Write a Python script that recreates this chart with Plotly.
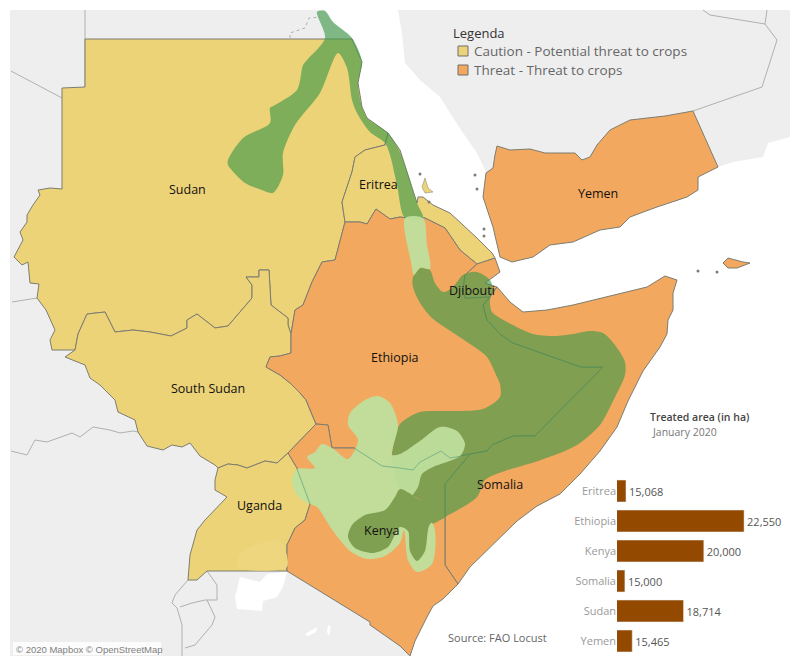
#!/usr/bin/env python3
# plot.py - Desert locust situation map with treated area bars

import plotly.graph_objects as go

# treated area bars
countries = ['Eritrea', 'Ethiopia', 'Kenya', 'Somalia', 'Sudan', 'Yemen']
treated_ha = [15068, 22550, 20000, 15000, 18714, 15465]

# map outlines
sea = [(325, 10), (333, 22), (352, 38), (362, 62), (358, 83), (362, 107), (367, 118), (388, 133), (400, 150),
       (417, 203), (418, 197), (423, 197), (433, 205), (450, 213), (477, 238), (492, 253), (495, 258), (500, 272),
       (485, 283), (497, 287), (510, 302), (523, 312), (547, 310), (573, 305), (613, 295), (647, 287), (665, 276),
       (677, 280), (673, 293), (673, 310), (668, 320), (667, 334), (660, 347), (643, 371), (628, 401), (617, 427),
       (600, 451), (580, 474), (560, 494), (537, 506), (517, 521), (493, 544), (470, 567), (458, 584), (443, 599),
       (433, 606), (427, 617), (415, 641), (410, 656), (790, 656), (790, 137), (768, 143), (763, 157), (733, 162),
       (718, 167), (698, 177), (698, 190), (687, 197), (657, 207), (630, 217), (620, 227), (600, 230), (573, 242),
       (550, 245), (533, 257), (512, 262), (500, 257), (493, 227), (483, 197), (486, 173), (485, 170), (477, 153),
       (463, 133), (450, 113), (440, 97), (420, 80), (405, 63), (402, 33), (400, 23), (398, 10)]
sudan = [(85, 39), (352, 39), (362, 62), (358, 83), (362, 107), (367, 118), (388, 133), (385, 145), (365, 150),
         (355, 157), (352, 172), (342, 202), (345, 222), (335, 260), (322, 262), (312, 282), (303, 305), (295, 310),
         (291, 334), (288, 325), (288, 318), (271, 305), (269, 270), (259, 270), (259, 277), (246, 277), (252, 285),
         (252, 298), (228, 326), (215, 328), (197, 314), (187, 320), (187, 328), (171, 336), (150, 332), (133, 330),
         (115, 332), (105, 312), (87, 314), (78, 334), (75, 350), (52, 350), (50, 340), (55, 330), (46, 310), (37, 298),
         (39, 284), (30, 283), (28, 262), (22, 265), (14, 257), (23, 240), (20, 232), (27, 222), (27, 215), (33, 205),
         (40, 195), (38, 190), (50, 188), (62, 189), (62, 88), (85, 87)]
south_sudan = [(291, 334), (288, 325), (288, 318), (271, 305), (269, 270), (259, 270), (259, 277), (246, 277),
               (252, 285), (252, 298), (228, 326), (215, 328), (197, 314), (187, 320), (187, 328), (171, 336),
               (150, 332), (133, 330), (115, 332), (105, 312), (87, 314), (78, 334), (75, 350), (65, 357), (85, 365),
               (90, 378), (100, 385), (115, 400), (118, 412), (135, 420), (138, 432), (147, 446), (163, 450),
               (172, 445), (182, 447), (190, 443), (200, 456), (215, 465), (218, 468), (228, 464), (238, 465),
               (247, 468), (265, 461), (277, 463), (288, 453), (316, 424), (310, 410), (306, 400), (300, 393),
               (290, 383), (280, 375), (266, 367), (270, 357), (280, 356), (291, 353)]
uganda = [(218, 468), (215, 480), (215, 490), (227, 497), (205, 520), (197, 530), (190, 555), (188, 580), (197, 580),
          (207, 571), (287, 571), (287, 545), (295, 528), (305, 520), (310, 504), (305, 490), (297, 468), (288, 453),
          (277, 463), (265, 461), (247, 468), (238, 465), (228, 464)]
eritrea = [(388, 133), (400, 150), (417, 203), (418, 197), (423, 197), (433, 205), (450, 213), (477, 238), (492, 253),
           (495, 258), (477, 264), (460, 250), (445, 228), (425, 218), (407, 218), (400, 217), (390, 219), (376, 209),
           (367, 224), (360, 222), (345, 222), (342, 202), (352, 172), (355, 157), (365, 150), (385, 145)]
ethiopia = [(345, 222), (360, 222), (367, 224), (376, 209), (390, 219), (400, 217), (407, 218), (425, 218), (445, 228),
            (460, 250), (477, 264), (465, 275), (463, 290), (465, 298), (490, 297), (483, 305), (487, 320), (500, 334),
            (513, 343), (581, 367), (603, 367), (535, 436), (513, 436), (492, 445), (487, 451), (470, 454), (450, 458),
            (441, 451), (420, 462), (413, 470), (400, 468), (382, 466), (354, 448), (332, 448), (328, 425), (316, 424),
            (310, 410), (306, 400), (300, 393), (290, 383), (280, 375), (266, 367), (270, 357), (280, 356), (291, 353),
            (291, 334), (295, 310), (303, 305), (312, 282), (322, 262), (335, 260)]
djibouti = [(477, 264), (495, 258), (500, 272), (485, 283), (497, 287), (490, 297), (465, 298), (463, 290), (465, 275)]
somalia = [(497, 287), (510, 302), (523, 312), (547, 310), (573, 305), (613, 295), (647, 287), (665, 276), (677, 280),
           (673, 293), (673, 310), (668, 320), (667, 334), (660, 347), (643, 371), (628, 401), (617, 427), (600, 451),
           (580, 474), (560, 494), (537, 506), (517, 521), (493, 544), (470, 567), (458, 584), (445, 565), (445, 484),
           (470, 454), (487, 451), (492, 445), (513, 436), (535, 436), (603, 367), (581, 367), (513, 343), (500, 334),
           (487, 320), (483, 305), (490, 297)]
kenya = [(288, 453), (316, 424), (328, 425), (332, 448), (354, 448), (382, 466), (400, 468), (413, 470), (420, 462),
         (441, 451), (450, 458), (470, 454), (445, 484), (445, 565), (458, 584), (443, 599), (433, 606), (427, 617),
         (415, 641), (410, 656), (400, 646), (370, 625), (370, 622), (287, 571), (287, 545), (295, 528), (305, 520),
         (310, 504), (305, 490), (297, 468)]
yemen = [(486, 173), (483, 197), (493, 227), (500, 257), (512, 262), (533, 257), (550, 245), (573, 242), (600, 230),
         (620, 227), (630, 217), (657, 207), (687, 197), (698, 190), (698, 177), (718, 167), (693, 111), (665, 116),
         (630, 120), (610, 130), (597, 145), (590, 157), (582, 160), (575, 153), (545, 153), (530, 149), (510, 150),
         (497, 146), (495, 155), (493, 168)]
socotra = [(723, 263), (728, 258), (743, 262), (750, 263), (737, 268), (728, 268)]
dahlak = [(422, 187), (425, 178), (428, 188), (433, 192), (425, 193)]
islands_x = [420, 475, 477, 484, 484, 698, 717, 429]
islands_y = [174, 175, 189, 229, 236, 271, 272, 202]

# lakes
victoria = [(235, 597), (240, 577), (260, 582), (267, 574), (287, 572), (283, 587), (277, 597), (263, 601), (262, 611),
            (237, 609)]
turkana = [(305, 634), (317, 627), (316, 632), (308, 636)]
natron = [(328, 625), (331, 627), (329, 636), (327, 632)]
kyoga = [(237, 567), (243, 551), (280, 541), (287, 567)]

# locust swarm areas
swarm_north = [(325, 11), (333, 22), (352, 38), (362, 62), (358, 83), (362, 107), (367, 118), (388, 133), (400, 152),
               (417, 203), (423, 218), (405, 218), (397, 185), (390, 155), (385, 143), (370, 132), (357, 113),
               (352, 100), (347, 68), (338, 53), (320, 93), (295, 125), (283, 153), (283, 175), (273, 193), (262, 190),
               (245, 183), (228, 165), (228, 160), (243, 138), (270, 123), (270, 108), (275, 105), (297, 90),
               (303, 65), (307, 60), (325, 38), (317, 12)]
swarm_main = [(413, 277), (422, 267), (430, 270), (435, 283), (443, 292), (452, 288), (463, 275), (477, 272), (490, 280),
              (493, 290), (490, 300), (492, 312), (513, 325), (533, 334), (555, 336), (573, 334), (590, 331), (603, 333),
              (615, 345), (625, 362), (625, 375), (615, 397), (600, 425), (580, 443), (565, 451), (535, 462), (505, 471),
              (485, 480), (477, 497), (445, 517), (430, 524), (420, 500), (400, 489), (392, 458), (393, 447), (400, 424),
              (420, 412), (447, 411), (483, 409), (500, 397), (500, 384), (497, 377), (487, 357), (470, 344), (455, 334),
              (432, 318), (420, 303), (413, 287)]
hopper_strip = [(405, 218), (423, 218), (427, 245), (430, 269), (420, 268), (414, 275), (411, 262)]
hopper_south = [(292, 480), (297, 469), (315, 468), (307, 457), (315, 452), (322, 444), (332, 448), (348, 459), (358, 440),
                (348, 425), (350, 413), (365, 400), (378, 396), (390, 403), (398, 425), (393, 447), (392, 455), (400, 454),
                (420, 441), (440, 427), (457, 431), (465, 444), (460, 456), (433, 467), (422, 474), (418, 487), (405, 510),
                (433, 524), (432, 564), (417, 572), (408, 560), (404, 530), (400, 543), (385, 556), (367, 559), (350, 551),
                (333, 531), (317, 507), (310, 504), (302, 500), (295, 492)]
swarm_kenya = [(400, 489), (395, 497), (385, 510), (365, 515), (352, 525), (348, 537), (355, 548), (373, 553), (388, 547),
               (400, 527), (408, 531), (410, 551), (417, 561), (425, 551), (430, 524), (445, 517), (420, 500)]

# borders that still show through the hopper areas
hopper_borders = [
    [(354, 448), (382, 466), (400, 468), (413, 470), (420, 462), (441, 451), (450, 458), (462, 456)],
    [(297, 469), (305, 490), (310, 504)],
]

# thin borders of the countries that are not highlighted
other_borders = [
    [(85, 10), (85, 88)],
    [(11, 71), (62, 98)],
    [(12, 302), (37, 298)],
    [(11, 451), (27, 455), (35, 440), (47, 442), (72, 433), (80, 437), (93, 427), (110, 430), (120, 433), (133, 431),
     (138, 432)],
    [(188, 580), (175, 595), (172, 603), (177, 608), (182, 625), (182, 656)],
    [(207, 571), (217, 585), (217, 600), (205, 600), (192, 603), (180, 607)],
    [(207, 600), (215, 617), (212, 625), (195, 645), (185, 648)],
    [(703, 10), (710, 15), (765, 24), (767, 10)],
    [(765, 24), (777, 40), (762, 87), (693, 111)],
]
egypt_dotted = [(290, 38), (290, 33), (305, 28), (309, 18), (320, 17)]

# country labels
label_names = ['Sudan', 'Eritrea', 'Yemen', 'Djibouti', 'Ethiopia', 'South Sudan', 'Somalia', 'Uganda', 'Kenya']
label_x = [187, 378, 598, 472, 395, 208, 500, 259, 382]
label_y = [189, 184, 193, 290, 357, 388, 484, 505, 530]

FONT = 'Open Sans'
LAND = '#eeeeef'
CAUTION = '#edd378'
THREAT = '#f3a85f'
BORDER = '#7d7d70'
SWARM = 'rgba(64,153,73,0.64)'
SWARM_SOLID = '#80a051'
HOPPER = 'rgba(190,224,157,0.94)'


def polygon(points, fill, line_color=BORDER, line_width=1, smooth=False):
    """Closed filled outline on the map axes"""
    xs = [p[0] for p in points] + [points[0][0]]
    ys = [p[1] for p in points] + [points[0][1]]
    line = dict(color=line_color, width=line_width)
    if smooth:
        line.update(shape='spline', smoothing=0.8)
    return go.Scatter(x=xs, y=ys, mode='lines', fill='toself', fillcolor=fill, line=line, hoverinfo='skip')


def path(points, color='#b0b0b0', width=1, dash='solid'):
    return go.Scatter(x=[p[0] for p in points], y=[p[1] for p in points], mode='lines',
                      line=dict(color=color, width=width, dash=dash), hoverinfo='skip')


fig = go.Figure()

# land and sea
fig.add_shape(type='rect', x0=10, x1=790, y0=10, y1=656, fillcolor=LAND, line_width=0, layer='below')
fig.add_trace(polygon(sea, 'white', line_width=0))
for border in other_borders:
    fig.add_trace(path(border))
fig.add_trace(path(egypt_dotted, dash='dot'))

# countries
for shape in [sudan, south_sudan, uganda, eritrea]:
    fig.add_trace(polygon(shape, CAUTION))
for shape in [ethiopia, djibouti, somalia, kenya, yemen, socotra]:
    fig.add_trace(polygon(shape, THREAT))
fig.add_trace(polygon(dahlak, CAUTION, line_width=0.5))
fig.add_trace(go.Scatter(x=islands_x, y=islands_y, mode='markers', hoverinfo='skip',
                         marker=dict(color=BORDER, size=3)))
fig.add_trace(polygon(kyoga, '#eed67f', line_width=0, smooth=True))
for lake in [victoria, turkana, natron]:
    fig.add_trace(polygon(lake, 'white', line_width=0))

# swarms and hoppers
fig.add_trace(polygon(swarm_north, SWARM, line_width=0, smooth=True))
fig.add_trace(polygon(swarm_main, SWARM, line_width=0, smooth=True))
fig.add_trace(polygon(hopper_strip, HOPPER, line_width=0, smooth=True))
fig.add_trace(polygon(hopper_south, HOPPER, line_width=0, smooth=True))
fig.add_trace(polygon(swarm_kenya, SWARM_SOLID, line_width=0, smooth=True))
for border in hopper_borders:
    fig.add_trace(path(border, color='rgba(110,170,130,0.8)'))

# legend swatches
fig.add_trace(go.Scatter(x=[463, 463], y=[51, 70], mode='markers', hoverinfo='skip',
                         marker=dict(symbol='square', size=10, color=[CAUTION, THREAT],
                                     line=dict(color='#6f6f6f', width=1))))

# bars
fig.add_trace(go.Bar(x=treated_ha, y=countries, orientation='h', xaxis='x2', yaxis='y2',
                     marker_color='#934a00', text=[f'{v:,}' for v in treated_ha],
                     textposition='outside', cliponaxis=False, hoverinfo='skip',
                     textfont=dict(size=11, color='#555555', family=FONT)))


def note(text, x, y, size, color, anchor='left', weight=None):
    fig.add_annotation(x=x, y=y, text=text, showarrow=False, xanchor=anchor, yanchor='middle',
                       font=dict(family=FONT, size=size, color=color, weight=weight))


for name, x, y in zip(label_names, label_x, label_y):
    note(name, x, y, 12.5, '#111111', anchor='center')

note('Legenda', 451, 33, 13, '#333333')
note('Caution - Potential threat to crops', 472, 51, 13.5, '#666666')
note('Threat - Threat to crops', 472, 70, 13.5, '#666666')
note('Source: FAO Locust', 446, 637, 11, '#666666')
note('Treated area (in ha)', 648, 417, 10.5, '#444444', weight=600)
note('January 2020', 650, 432, 10.5, '#777777')

# attribution box
fig.add_shape(type='rect', x0=13, x1=161, y0=642, y1=655, fillcolor='rgba(255,255,255,0.8)', line_width=0)
fig.add_annotation(x=14, y=649, text='© 2020 Mapbox © OpenStreetMap', showarrow=False, xanchor='left',
                   font=dict(family='Liberation Sans', size=9.5, color='#808080'))

fig.update_layout(
    width=800,
    height=667,
    margin=dict(l=0, r=0, t=0, b=0),
    paper_bgcolor='white',
    plot_bgcolor='white',
    showlegend=False,
    bargap=0.27,
    xaxis=dict(range=[0, 800], visible=False, domain=[0, 1]),
    yaxis=dict(range=[667, 0], visible=False, domain=[0, 1]),
    xaxis2=dict(range=[14500, 25460], visible=False, domain=[617 / 800, 790 / 800], anchor='y2'),
    yaxis2=dict(domain=[1 - 656 / 667, 1 - 476 / 667], anchor='x2', autorange='reversed', showline=False,
                showgrid=False, ticks='', tickfont=dict(family=FONT, size=11, color='#9a9a9a')),
)

# the page body has a default margin, the map is laid out from the corner
fig.write_html("out.html", config={'displayModeBar': False}, post_script="document.body.style.margin='0';")
